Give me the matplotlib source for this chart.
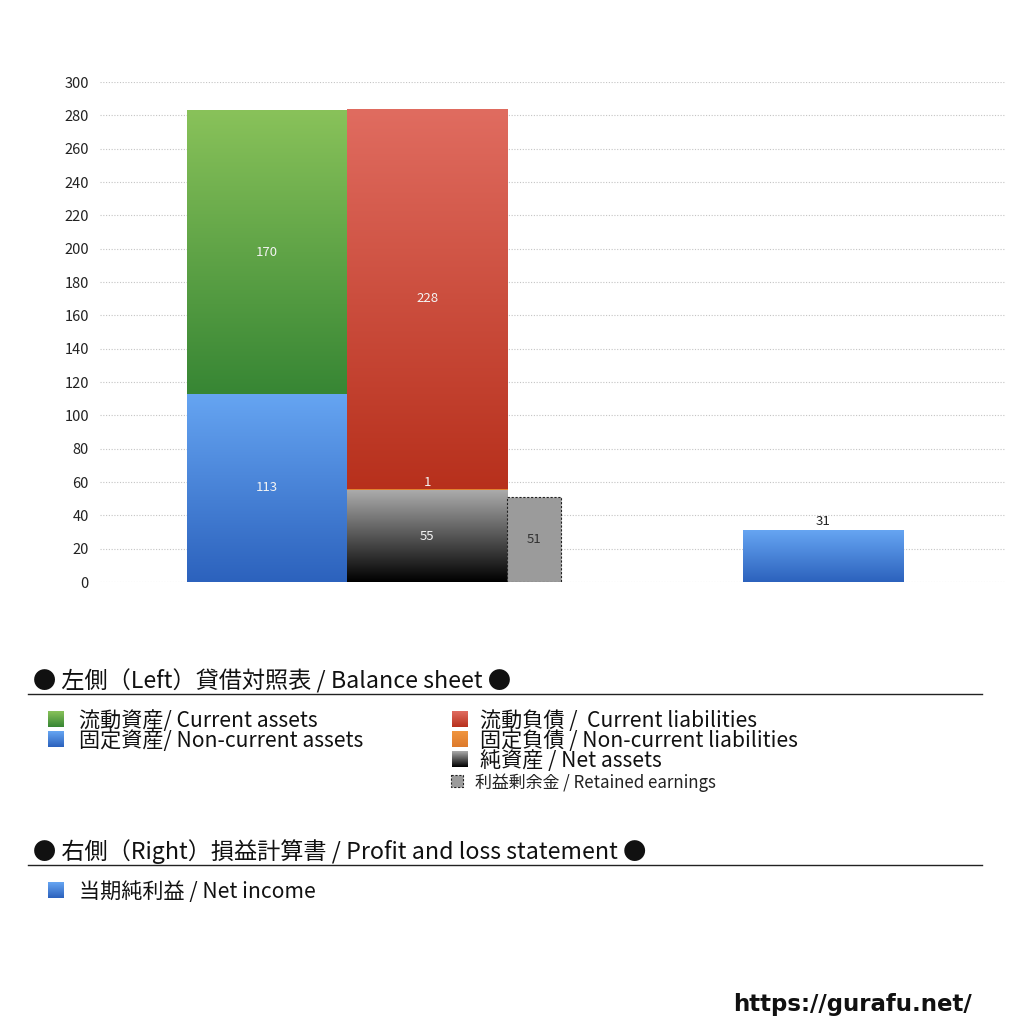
import numpy as np
import matplotlib
matplotlib.use("Agg")
import matplotlib.pyplot as plt
from matplotlib.colors import LinearSegmentedColormap
from matplotlib.patches import Rectangle

plt.rcParams['font.family'] = ['Noto Sans CJK JP', 'DejaVu Sans']

# values
asset_labels = ['流動資産/ Current assets', '固定資産/ Non-current assets']
liab_labels = ['流動負債 /  Current liabilities', '固定負債 / Non-current liabilities',
               '純資産 / Net assets']
current_assets = 170
noncurrent_assets = 113
current_liab = 228
noncurrent_liab = 1
net_assets = 55
retained_earnings = 51
net_income = 31

yticks = list(range(0, 301, 20))

# (top colour, bottom colour) for each gradient fill
GREEN = ('#89c25a', '#378634')
BLUE = ('#66a5f2', '#2c62bd')
RED = ('#e06c60', '#b7301c')
ORANGE = ('#f0953f', '#dd7a2c')
BLACK = ('#ababab', '#000000')


def grad_fill(ax, patch, colors, zorder=2):
    x0, y0 = patch.get_x(), patch.get_y()
    w, h = patch.get_width(), patch.get_height()
    cmap = LinearSegmentedColormap.from_list('g', [colors[1], colors[0]])
    arr = np.linspace(1, 0, 256).reshape(-1, 1)
    im = ax.imshow(arr, extent=[x0, x0 + w, y0, y0 + h], aspect='auto',
                   cmap=cmap, vmin=0, vmax=1, zorder=zorder, interpolation='bicubic')
    im.set_clip_path(patch)
    return im


fig = plt.figure(figsize=(10.24, 10.24), dpi=100)
ax = fig.add_axes([100 / 1024, 1 - 582 / 1024, 905 / 1024, 500 / 1024])

w = 1.0
left_x, right_x, re_x, pl_x = 0.0, 1.0, 1.6688, 3.475

def stacked(ax, x, vals, cols, width=w):
    bottom = 0
    out = []
    for v, c in zip(vals, cols):
        b = ax.bar(x, v, width, bottom=bottom, facecolor='none', edgecolor='none', zorder=2)[0]
        grad_fill(ax, b, c)
        out.append((b, v, bottom))
        bottom += v
    return out

left = stacked(ax, left_x, [noncurrent_assets, current_assets], [BLUE, GREEN])
right = stacked(ax, right_x, [net_assets, noncurrent_liab, current_liab], [BLACK, ORANGE, RED])

re_bar = ax.bar(re_x, retained_earnings, 0.3375, color='#9b9b9b', edgecolor='#222222',
                linestyle=(0, (2, 1.5)), linewidth=0.8, zorder=2)[0]
pl_bar = ax.bar(pl_x, net_income, w, facecolor='none', edgecolor='none', zorder=2)[0]
grad_fill(ax, pl_bar, BLUE)

for b, v, bot in left + right:
    x = b.get_x() + b.get_width() / 2
    va = 'bottom' if v < 10 else 'center'
    ax.text(x, bot + v / 2, str(v), ha='center', va=va, color='#f4f4f4', fontsize=9.5, zorder=4)

ax.text(re_x, retained_earnings / 2, str(retained_earnings), ha='center', va='center',
        color='#333333', fontsize=9.5, zorder=4)
ax.text(pl_x, net_income + 1.5, str(net_income), ha='center', va='bottom',
        color='#222222', fontsize=9.5, zorder=4)

ax.set_xlim(-1.044, 4.612)
ax.set_ylim(0, 300)
ax.set_yticks(yticks)
ax.set_xticks([])
ax.tick_params(axis='y', length=0, pad=8, labelsize=10.5, labelcolor='#222222')
for s in ax.spines.values():
    s.set_visible(False)
ax.yaxis.grid(True, linestyle=(0, (1, 1.5)), color='#c4c4c4', linewidth=0.8)
ax.set_axisbelow(True)

# legend area drawn in pixel coordinates
lg = fig.add_axes([0, 0, 1, 1])
lg.set_xlim(0, 1024)
lg.set_ylim(1024, 0)
lg.axis('off')
lg.patch.set_alpha(0)


def swatch(x, y, size, colors):
    r = Rectangle((x, y - size / 2), size, size, facecolor='none', edgecolor='none')
    lg.add_patch(r)
    cmap = LinearSegmentedColormap.from_list('g', [colors[1], colors[0]])
    arr = np.linspace(1, 0, 64).reshape(-1, 1)
    im = lg.imshow(arr, extent=[x, x + size, y + size / 2, y - size / 2], aspect='auto',
                   cmap=cmap, vmin=0, vmax=1, origin='upper')
    im.set_clip_path(r)


HEAD = 16.7
ITEM = 15.2
dy = 2  # text sits a touch lower than its swatch centre

lg.text(33, 679 + dy, '● 左側（Left）貸借対照表 / Balance sheet ●', fontsize=HEAD, va='center', color='#111111')
lg.plot([28, 982], [694, 694], color='#222222', lw=1)

swatch(48, 719, 16, GREEN)
lg.text(79, 719 + dy, asset_labels[0], fontsize=ITEM, va='center', color='#111111')
swatch(48, 739, 16, BLUE)
lg.text(79, 739 + dy, asset_labels[1], fontsize=ITEM, va='center', color='#111111')

swatch(452, 719, 16, RED)
lg.text(480, 719 + dy, liab_labels[0], fontsize=ITEM, va='center', color='#111111')
swatch(452, 739, 16, ORANGE)
lg.text(480, 739 + dy, liab_labels[1], fontsize=ITEM, va='center', color='#111111')
swatch(452, 759, 16, BLACK)
lg.text(480, 759 + dy, liab_labels[2], fontsize=ITEM, va='center', color='#111111')
lg.add_patch(Rectangle((451, 775), 12, 12, facecolor='#9b9b9b', edgecolor='#222222',
                       linestyle=(0, (2, 1.5)), linewidth=0.8))
lg.text(475, 781 + dy, '利益剰余金 / Retained earnings', fontsize=12.2, va='center', color='#222222')

lg.text(33, 850 + dy, '● 右側（Right）損益計算書 / Profit and loss statement ●', fontsize=HEAD,
        va='center', color='#111111')
lg.plot([28, 982], [865, 865], color='#222222', lw=1)
swatch(48, 890, 16, BLUE)
lg.text(79, 890 + dy, '当期純利益 / Net income', fontsize=ITEM, va='center', color='#111111')

lg.text(972, 1004, 'https://gurafu.net/', fontsize=16.5, fontweight='bold', ha='right',
        va='center', color='#111111', family='DejaVu Sans')

fig.savefig('out.png', dpi=100)
